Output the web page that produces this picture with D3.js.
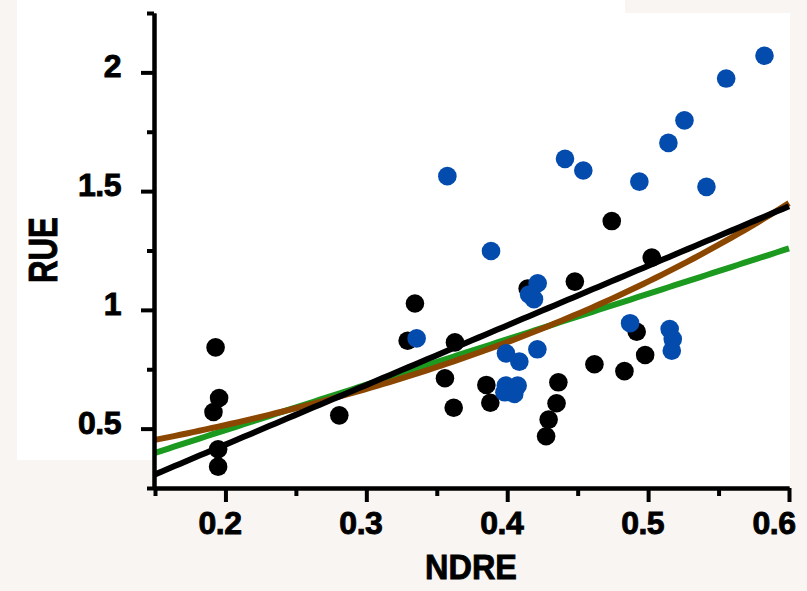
<!DOCTYPE html>
<html>
<head>
<meta charset="utf-8">
<script src="https://cdn.jsdelivr.net/npm/d3@7/dist/d3.min.js"></script>
<style>
  html, body { margin: 0; padding: 0; background: #f8f5f2; }
  svg { display: block; }
  text { font-family: "Liberation Sans", Arial, sans-serif; font-weight: bold; fill: #000; stroke: #000; stroke-width: 0.9px; }
</style>
</head>
<body>
<svg id="chart" width="807" height="591"></svg>
<script>
// Group 1 (black) observations
const ndreBlack = [0.193, 0.1955, 0.1915, 0.1948, 0.1948, 0.2808, 0.3345, 0.3293, 0.3629, 0.3558,
                   0.362, 0.3852, 0.388, 0.4145, 0.448, 0.4363, 0.435, 0.4294, 0.4276, 0.5026,
                   0.4919, 0.4979, 0.4619, 0.4832, 0.4742];
const rueBlack  = [0.842, 0.629, 0.570, 0.413, 0.340, 0.556, 1.027, 0.870, 0.863, 0.712,
                   0.588, 0.684, 0.609, 1.090, 1.119, 0.695, 0.607, 0.538, 0.468, 1.220,
                   0.908, 0.810, 0.771, 0.742, 1.374];

// Group 2 (blue) observations
const ndreBlue = [0.3357, 0.4216, 0.4155, 0.419, 0.3991, 0.4086, 0.4214, 0.399, 0.4074, 0.398,
                  0.405, 0.3885, 0.4872, 0.5153, 0.5175, 0.5168, 0.5826, 0.5554, 0.5258, 0.5144,
                  0.454, 0.4938, 0.5414, 0.3575, 0.441];
const rueBlue  = [0.880, 1.112, 1.065, 1.045, 0.817, 0.782, 0.834, 0.681, 0.681, 0.653,
                  0.646, 1.248, 0.944, 0.919, 0.877, 0.828, 2.070, 1.974, 1.798, 1.703,
                  1.587, 1.540, 1.518, 1.563, 1.636];

// Fitted models: linear fits (intercept, slope) and an exponential fit (a, b) for y = a * e^(b x)
const linearFitBlack = [-0.069, 2.509];
const linearFitGreen = [0.111, 1.913];
const expFitBrown = [0.307, 2.587];

// Axis ticks
const xTicks = [0.2, 0.3, 0.4, 0.5, 0.6];
const xMinorTicks = [0.15, 0.25, 0.35, 0.45, 0.55];
const yTicks = [0.5, 1, 1.5, 2];
const yMinorTicks = [0.25, 0.75, 1.25, 1.75, 2.25];
const xTitle = "NDRE";
const yTitle = "RUE";

const svg = d3.select("#chart");

// Background panels
svg.append("rect").attr("x", 17).attr("y", 0).attr("width", 608).attr("height", 460).attr("fill", "#ffffff");
svg.append("rect").attr("x", 153).attr("y", 13).attr("width", 637).attr("height", 475).attr("fill", "#ffffff");

const x = d3.scaleLinear().domain([0.15, 0.6]).range([155, 789]);
const y = d3.scaleLinear().domain([0.25, 2.25]).range([488, 13]);

// Fit curves
const xs = d3.range(0, 101).map(i => 0.15 + i * 0.45 / 100);
const line = d3.line().x(d => x(d[0])).y(d => y(d[1]));
const curves = [
  { f: v => linearFitGreen[0] + linearFitGreen[1] * v, color: "#1b9a1f" },
  { f: v => expFitBrown[0] * Math.exp(expFitBrown[1] * v), color: "#8b4700" },
  { f: v => linearFitBlack[0] + linearFitBlack[1] * v, color: "#000000" }
];
curves.forEach(c => {
  svg.append("path")
    .attr("d", line(xs.map(v => [v, c.f(v)])))
    .attr("fill", "none")
    .attr("stroke", c.color)
    .attr("stroke-width", 6);
});

// Points
const r = 9.3;
svg.append("g").selectAll("circle")
  .data(d3.zip(ndreBlack, rueBlack))
  .join("circle")
  .attr("cx", d => x(d[0])).attr("cy", d => y(d[1])).attr("r", r)
  .attr("fill", "#000000");
svg.append("g").selectAll("circle")
  .data(d3.zip(ndreBlue, rueBlue))
  .join("circle")
  .attr("cx", d => x(d[0])).attr("cy", d => y(d[1])).attr("r", r)
  .attr("fill", "#034cad");

// Axes
const axisX = 154, axisY = 488;
const fmt = d => String(d);

const gy = svg.append("g").attr("transform", `translate(${axisX},0)`);
gy.call(d3.axisLeft(y).tickValues(yMinorTicks).tickSize(7).tickSizeOuter(0).tickFormat(""));
gy.call(g => g.append("g").call(d3.axisLeft(y).tickValues(yTicks).tickSize(13).tickSizeOuter(0).tickPadding(20).tickFormat(fmt)));

const gx = svg.append("g").attr("transform", `translate(0,${axisY})`);
gx.call(d3.axisBottom(x).tickValues(xMinorTicks).tickSize(8).tickSizeOuter(0).tickFormat(""));
gx.call(g => g.append("g").call(d3.axisBottom(x).tickValues(xTicks).tickSize(14).tickSizeOuter(0).tickFormat(fmt)));

svg.selectAll(".domain").attr("stroke", "#000").attr("stroke-width", 4);
svg.selectAll(".tick line").attr("stroke", "#000").attr("stroke-width", 4);
svg.selectAll(".tick text").attr("font-size", 32).attr("font-family", null).attr("fill", "#000")
  .style("letter-spacing", "-0.5px");

gy.selectAll(".tick text").attr("dy", "0.14em");
gx.selectAll(".tick text").attr("y", 46).attr("dy", 0).attr("dx", -6);
gx.selectAll(".tick text").filter(d => d === xTicks[xTicks.length - 1])
  .attr("text-anchor", "end").attr("dx", 6);

// Axis titles
svg.append("text")
  .attr("transform", "translate(471,579) scale(0.9,1)")
  .attr("text-anchor", "middle")
  .attr("font-size", 36)
  .text(xTitle);

svg.append("text")
  .attr("transform", "translate(57,250) rotate(-90) scale(0.78,1)")
  .attr("text-anchor", "middle")
  .attr("font-size", 40)
  .text(yTitle);
</script>
</body>
</html>
